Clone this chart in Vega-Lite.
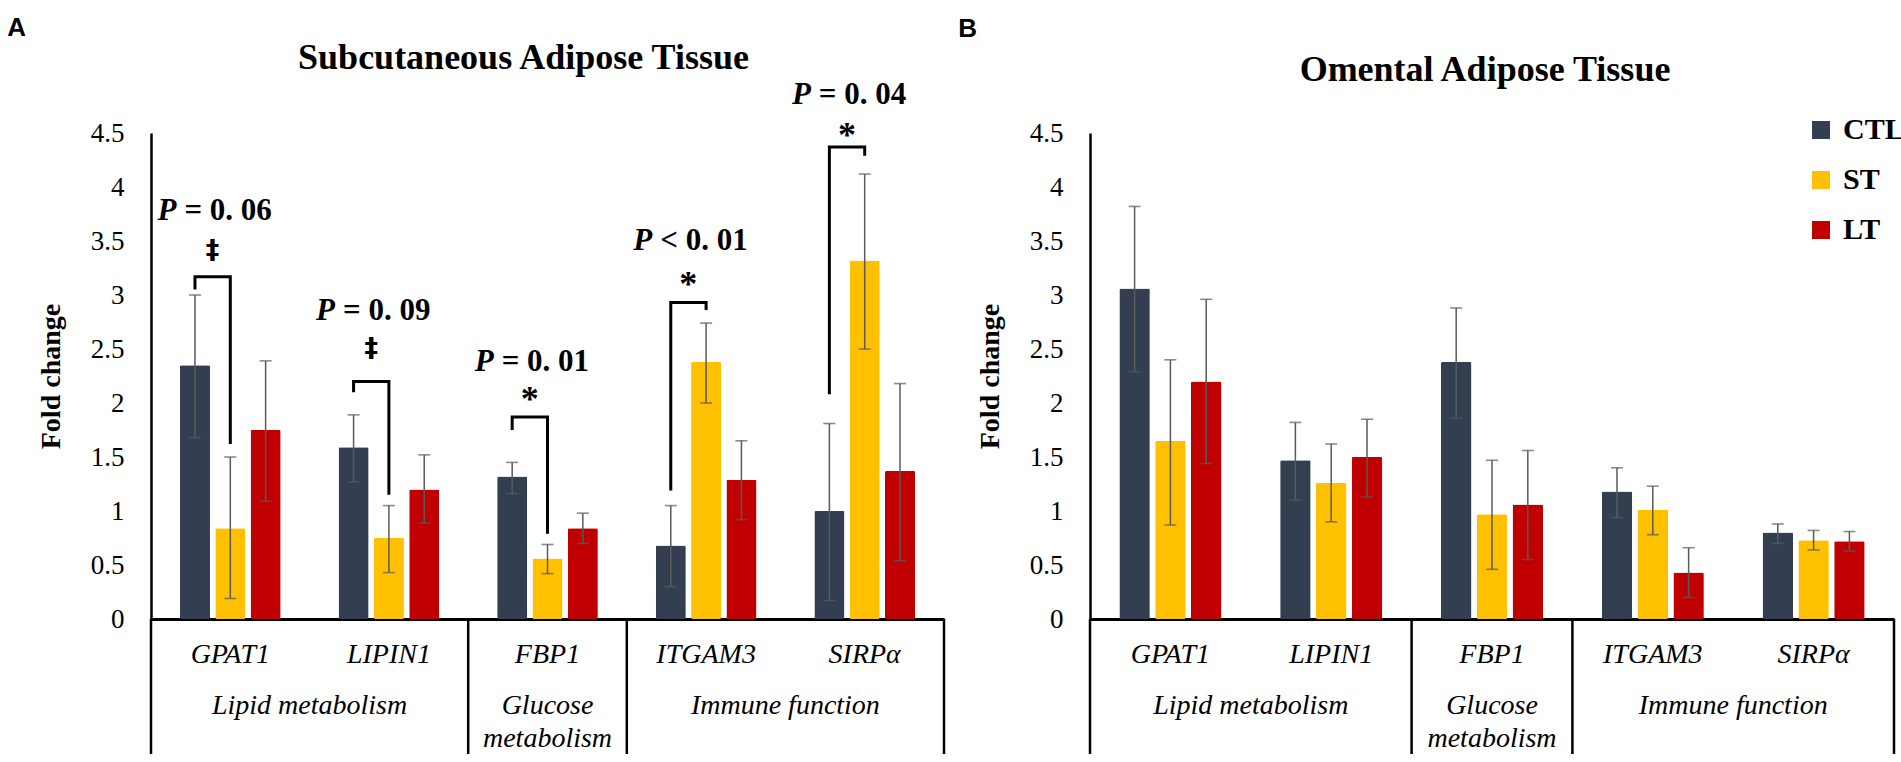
{
  "$schema": "https://vega.github.io/schema/vega-lite/v6.json",
  "padding": {"left": 7, "top": 15, "right": 0, "bottom": 0},
  "background": "white",
  "config": {"view": {"stroke": null}, "font": "Liberation Serif"},
  "spacing": 12,
  "resolve": {"scale": {"color": "independent", "x": "independent", "y": "independent", "xOffset": "independent"}},
  "datasets": {
    "subBars": [
      {"gene": "GPAT1", "group": "CTL", "value": 2.35, "lo": 1.68, "hi": 3.0},
      {"gene": "GPAT1", "group": "ST", "value": 0.84, "lo": 0.19, "hi": 1.5},
      {"gene": "GPAT1", "group": "LT", "value": 1.75, "lo": 1.09, "hi": 2.39},
      {"gene": "LIPIN1", "group": "CTL", "value": 1.59, "lo": 1.27, "hi": 1.89},
      {"gene": "LIPIN1", "group": "ST", "value": 0.75, "lo": 0.43, "hi": 1.05},
      {"gene": "LIPIN1", "group": "LT", "value": 1.2, "lo": 0.89, "hi": 1.52},
      {"gene": "FBP1", "group": "CTL", "value": 1.32, "lo": 1.16, "hi": 1.45},
      {"gene": "FBP1", "group": "ST", "value": 0.56, "lo": 0.42, "hi": 0.69},
      {"gene": "FBP1", "group": "LT", "value": 0.84, "lo": 0.7, "hi": 0.98},
      {"gene": "ITGAM3", "group": "CTL", "value": 0.68, "lo": 0.3, "hi": 1.05},
      {"gene": "ITGAM3", "group": "ST", "value": 2.38, "lo": 2.0, "hi": 2.74},
      {"gene": "ITGAM3", "group": "LT", "value": 1.29, "lo": 0.92, "hi": 1.65},
      {"gene": "SIRPα", "group": "CTL", "value": 1.0, "lo": 0.17, "hi": 1.81},
      {"gene": "SIRPα", "group": "ST", "value": 3.32, "lo": 2.5, "hi": 4.12},
      {"gene": "SIRPα", "group": "LT", "value": 1.37, "lo": 0.54, "hi": 2.18}
    ],
    "omBars": [
      {"gene": "GPAT1", "group": "CTL", "value": 3.06, "lo": 2.29, "hi": 3.82},
      {"gene": "GPAT1", "group": "ST", "value": 1.65, "lo": 0.87, "hi": 2.4},
      {"gene": "GPAT1", "group": "LT", "value": 2.2, "lo": 1.44, "hi": 2.96},
      {"gene": "LIPIN1", "group": "CTL", "value": 1.47, "lo": 1.1, "hi": 1.82},
      {"gene": "LIPIN1", "group": "ST", "value": 1.26, "lo": 0.9, "hi": 1.62},
      {"gene": "LIPIN1", "group": "LT", "value": 1.5, "lo": 1.13, "hi": 1.85},
      {"gene": "FBP1", "group": "CTL", "value": 2.38, "lo": 1.86, "hi": 2.88},
      {"gene": "FBP1", "group": "ST", "value": 0.97, "lo": 0.46, "hi": 1.47},
      {"gene": "FBP1", "group": "LT", "value": 1.06, "lo": 0.55, "hi": 1.56},
      {"gene": "ITGAM3", "group": "CTL", "value": 1.18, "lo": 0.94, "hi": 1.4},
      {"gene": "ITGAM3", "group": "ST", "value": 1.01, "lo": 0.78, "hi": 1.23},
      {"gene": "ITGAM3", "group": "LT", "value": 0.43, "lo": 0.2, "hi": 0.66},
      {"gene": "SIRPα", "group": "CTL", "value": 0.8, "lo": 0.7, "hi": 0.88},
      {"gene": "SIRPα", "group": "ST", "value": 0.73, "lo": 0.64, "hi": 0.82},
      {"gene": "SIRPα", "group": "LT", "value": 0.72, "lo": 0.63, "hi": 0.81}
    ],
    "seps": [{"gene": "GPAT1"}, {"gene": "FBP1"}, {"gene": "ITGAM3"}],
    "sepEnd": [{"gene": "SIRPα"}],
    "groupsEdge": [
      {"gene": "LIPIN1", "label": "Lipid metabolism"},
      {"gene": "SIRPα", "label": "Immune function"}
    ],
    "groupsMid": [{"gene": "FBP1", "label": "Glucose\nmetabolism"}],
    "subBr": [
      {"gene": "GPAT1", "group": "CTL", "y": 3.05, "k": 1},
      {"gene": "GPAT1", "group": "CTL", "y": 3.17, "k": 2},
      {"gene": "GPAT1", "group": "ST", "y": 3.17, "k": 3},
      {"gene": "GPAT1", "group": "ST", "y": 1.62, "k": 4},
      {"gene": "LIPIN1", "group": "CTL", "y": 2.1, "k": 1},
      {"gene": "LIPIN1", "group": "CTL", "y": 2.2, "k": 2},
      {"gene": "LIPIN1", "group": "ST", "y": 2.2, "k": 3},
      {"gene": "LIPIN1", "group": "ST", "y": 1.15, "k": 4},
      {"gene": "FBP1", "group": "CTL", "y": 1.75, "k": 1},
      {"gene": "FBP1", "group": "CTL", "y": 1.87, "k": 2},
      {"gene": "FBP1", "group": "ST", "y": 1.87, "k": 3},
      {"gene": "FBP1", "group": "ST", "y": 0.79, "k": 4},
      {"gene": "ITGAM3", "group": "CTL", "y": 1.19, "k": 1},
      {"gene": "ITGAM3", "group": "CTL", "y": 2.93, "k": 2},
      {"gene": "ITGAM3", "group": "ST", "y": 2.93, "k": 3},
      {"gene": "ITGAM3", "group": "ST", "y": 2.86, "k": 4},
      {"gene": "SIRPα", "group": "CTL", "y": 2.08, "k": 1},
      {"gene": "SIRPα", "group": "CTL", "y": 4.37, "k": 2},
      {"gene": "SIRPα", "group": "ST", "y": 4.37, "k": 3},
      {"gene": "SIRPα", "group": "ST", "y": 4.29, "k": 4}
    ],
    "subAnn": [
      {"gene": "GPAT1", "sym": "‡", "rest": "= 0. 06", "sy": 3.41, "py": 3.78},
      {"gene": "LIPIN1", "sym": "‡", "rest": "= 0. 09", "sy": 2.5, "py": 2.85},
      {"gene": "FBP1", "sym": "*", "rest": "= 0. 01", "sy": 2.03, "py": 2.38},
      {"gene": "ITGAM3", "sym": "*", "rest": "< 0. 01", "sy": 3.09, "py": 3.5},
      {"gene": "SIRPα", "sym": "*", "rest": "= 0. 04", "sy": 4.47, "py": 4.85}
    ]
  },
  "hconcat": [
    {
      "title": {"text": "A", "font": "Liberation Sans", "fontSize": 26, "fontWeight": "bold", "color": "black", "anchor": "start", "frame": "bounds", "dx": -30, "offset": -1},
      "resolve": {"scale": {"color": "independent", "x": "independent", "y": "independent", "xOffset": "independent"}},
      "vconcat": [
        {
          "width": 793,
          "height": 486,
          "title": {"text": "Subcutaneous Adipose Tissue", "font": "Liberation Serif", "fontSize": 36, "fontWeight": "bold", "color": "black", "anchor": "middle", "dx": -24, "offset": 2},
          "layer": [
            {
              "data": {"name": "subBars"},
              "mark": {"type": "bar", "cornerRadius": 1.5},
              "encoding": {
                "x": {"field": "gene", "type": "nominal", "sort": null,
                  "scale": {"domain": ["GPAT1", "LIPIN1", "FBP1", "ITGAM3", "SIRPα"], "paddingInner": 0, "paddingOuter": 0},
                  "axis": {"title": null, "ticks": false, "domain": true, "domainColor": "black", "domainWidth": 3, "labelAngle": 0, "labelFont": "Liberation Serif", "labelFontStyle": "italic", "labelFontSize": 28, "labelColor": "black", "labelPadding": 21, "grid": false}},
                "xOffset": {"field": "group", "type": "nominal", "scale": {"domain": ["CTL", "ST", "LT"], "paddingInner": 0.15, "paddingOuter": 0.82}},
                "y": {"field": "value", "type": "quantitative",
                  "scale": {"domain": [0, 4.5], "nice": false},
                  "axis": {"title": "Fold change", "titleFont": "Liberation Serif", "titleFontSize": 28, "titleFontWeight": "bold", "titleColor": "black", "titlePadding": 25, "values": [0, 0.5, 1, 1.5, 2, 2.5, 3, 3.5, 4, 4.5], "format": "~g", "ticks": false, "domainColor": "black", "domainWidth": 2.5, "labelFont": "Liberation Serif", "labelFontSize": 27, "labelColor": "black", "labelPadding": 27, "grid": false}},
                "color": {"field": "group", "type": "nominal", "scale": {"domain": ["CTL", "ST", "LT"], "range": ["#333F50", "#FFC000", "#C00000"]}, "legend": null}
              }
            },
            {
              "data": {"name": "subBars"},
              "mark": {"type": "rule", "color": "#5a5a5a", "strokeWidth": 1.5},
              "encoding": {
                "x": {"field": "gene", "type": "nominal"},
                "xOffset": {"field": "group", "type": "nominal"},
                "y": {"field": "lo", "type": "quantitative"},
                "y2": {"field": "hi"}
              }
            },
            {
              "data": {"name": "subBars"},
              "mark": {"type": "tick", "color": "#5a5a5a", "thickness": 1.6, "size": 12, "orient": "horizontal"},
              "encoding": {
                "x": {"field": "gene", "type": "nominal"},
                "xOffset": {"field": "group", "type": "nominal"},
                "y": {"field": "hi", "type": "quantitative"}
              }
            },
            {
              "data": {"name": "subBars"},
              "mark": {"type": "tick", "color": "#5a5a5a", "thickness": 1.6, "size": 12, "orient": "horizontal"},
              "encoding": {
                "x": {"field": "gene", "type": "nominal"},
                "xOffset": {"field": "group", "type": "nominal"},
                "y": {"field": "lo", "type": "quantitative"}
              }
            },
            {
              "data": {"name": "seps"},
              "mark": {"type": "rule", "color": "black", "strokeWidth": 2.5},
              "encoding": {
                "x": {"field": "gene", "type": "nominal", "bandPosition": 0},
                "y": {"datum": 0, "type": "quantitative"},
                "y2": {"datum": -1.25}
              }
            },
            {
              "data": {"name": "sepEnd"},
              "mark": {"type": "rule", "color": "black", "strokeWidth": 2.5},
              "encoding": {
                "x": {"field": "gene", "type": "nominal", "bandPosition": 1},
                "y": {"datum": 0, "type": "quantitative"},
                "y2": {"datum": -1.25}
              }
            },
            {
              "data": {"name": "groupsEdge"},
              "mark": {"type": "text", "font": "Liberation Serif", "fontStyle": "italic", "fontSize": 28, "color": "black", "baseline": "alphabetic", "align": "center"},
              "encoding": {
                "x": {"field": "gene", "type": "nominal", "bandPosition": 0},
                "y": {"datum": -0.88, "type": "quantitative"},
                "text": {"field": "label"}
              }
            },
            {
              "data": {"name": "groupsMid"},
              "mark": {"type": "text", "font": "Liberation Serif", "fontStyle": "italic", "fontSize": 28, "color": "black", "baseline": "alphabetic", "align": "center", "lineBreak": "\n", "lineHeight": 33},
              "encoding": {
                "x": {"field": "gene", "type": "nominal", "bandPosition": 0.5},
                "y": {"datum": -0.88, "type": "quantitative"},
                "text": {"field": "label"}
              }
            },
            {
              "data": {"name": "subBr"},
              "mark": {"type": "line", "color": "black", "strokeWidth": 3, "strokeJoin": "miter"},
              "encoding": {
                "x": {"field": "gene", "type": "nominal"},
                "xOffset": {"field": "group", "type": "nominal"},
                "y": {"field": "y", "type": "quantitative"},
                "detail": {"field": "gene"},
                "order": {"field": "k"}
              }
            },
            {
              "data": {"name": "subAnn"},
              "transform": [{"filter": "datum.sym === '*'"}],
              "mark": {"type": "text", "font": "Liberation Serif", "fontWeight": "bold", "fontSize": 36, "color": "black", "baseline": "middle", "align": "center"},
              "encoding": {
                "x": {"field": "gene", "type": "nominal", "bandPosition": 0.388},
                "y": {"field": "sy", "type": "quantitative"},
                "text": {"field": "sym"}
              }
            },
            {
              "data": {"name": "subAnn"},
              "transform": [{"filter": "datum.sym !== '*'"}],
              "mark": {"type": "text", "font": "DejaVu Sans", "fontWeight": "bold", "fontSize": 27, "color": "black", "baseline": "middle", "align": "center"},
              "encoding": {
                "x": {"field": "gene", "type": "nominal", "bandPosition": 0.388},
                "y": {"field": "sy", "type": "quantitative"},
                "text": {"field": "sym"}
              }
            },
            {
              "data": {"name": "subAnn"},
              "mark": {"type": "text", "font": "Liberation Serif", "fontWeight": "bold", "fontStyle": "italic", "fontSize": 31, "color": "black", "baseline": "middle", "align": "right", "dx": -38},
              "encoding": {
                "x": {"field": "gene", "type": "nominal", "bandPosition": 0.4},
                "y": {"field": "py", "type": "quantitative"},
                "text": {"value": "P"}
              }
            },
            {
              "data": {"name": "subAnn"},
              "mark": {"type": "text", "font": "Liberation Serif", "fontWeight": "bold", "fontSize": 31, "color": "black", "baseline": "middle", "align": "left", "dx": -30},
              "encoding": {
                "x": {"field": "gene", "type": "nominal", "bandPosition": 0.4},
                "y": {"field": "py", "type": "quantitative"},
                "text": {"field": "rest"}
              }
            }
          ]
        }
      ]
    },
    {
      "title": {"text": "B", "font": "Liberation Sans", "fontSize": 26, "fontWeight": "bold", "color": "black", "anchor": "start", "frame": "bounds", "dx": -18, "offset": 10},
      "resolve": {"scale": {"color": "independent", "x": "independent", "y": "independent", "xOffset": "independent"}},
      "vconcat": [
        {
          "width": 804,
          "height": 486,
          "title": {"text": "Omental Adipose Tissue", "font": "Liberation Serif", "fontSize": 36, "fontWeight": "bold", "color": "black", "anchor": "middle", "dx": -7, "offset": 26},
          "layer": [
            {
              "data": {"name": "omBars"},
              "mark": {"type": "bar", "cornerRadius": 1.5},
              "encoding": {
                "x": {"field": "gene", "type": "nominal", "sort": null,
                  "scale": {"domain": ["GPAT1", "LIPIN1", "FBP1", "ITGAM3", "SIRPα"], "paddingInner": 0, "paddingOuter": 0},
                  "axis": {"title": null, "ticks": false, "domain": true, "domainColor": "black", "domainWidth": 3, "labelAngle": 0, "labelFont": "Liberation Serif", "labelFontStyle": "italic", "labelFontSize": 28, "labelColor": "black", "labelPadding": 21, "grid": false}},
                "xOffset": {"field": "group", "type": "nominal", "scale": {"domain": ["CTL", "ST", "LT"], "paddingInner": 0.15, "paddingOuter": 0.82}},
                "y": {"field": "value", "type": "quantitative",
                  "scale": {"domain": [0, 4.5], "nice": false},
                  "axis": {"title": "Fold change", "titleFont": "Liberation Serif", "titleFontSize": 28, "titleFontWeight": "bold", "titleColor": "black", "titlePadding": 25, "values": [0, 0.5, 1, 1.5, 2, 2.5, 3, 3.5, 4, 4.5], "format": "~g", "ticks": false, "domainColor": "black", "domainWidth": 2.5, "labelFont": "Liberation Serif", "labelFontSize": 27, "labelColor": "black", "labelPadding": 27, "grid": false}},
                "color": {"field": "group", "type": "nominal", "scale": {"domain": ["CTL", "ST", "LT"], "range": ["#333F50", "#FFC000", "#C00000"]},
                  "legend": {"orient": "none", "legendX": 716, "legendY": -18, "title": null, "labelFont": "Liberation Serif", "labelFontSize": 30, "labelFontWeight": "bold", "labelColor": "black", "symbolType": "square", "symbolSize": 324, "symbolStrokeWidth": 0, "rowPadding": 20, "labelOffset": 7, "padding": 0, "direction": "vertical"}}
              }
            },
            {
              "data": {"name": "omBars"},
              "mark": {"type": "rule", "color": "#5a5a5a", "strokeWidth": 1.5},
              "encoding": {
                "x": {"field": "gene", "type": "nominal"},
                "xOffset": {"field": "group", "type": "nominal"},
                "y": {"field": "lo", "type": "quantitative"},
                "y2": {"field": "hi"}
              }
            },
            {
              "data": {"name": "omBars"},
              "mark": {"type": "tick", "color": "#5a5a5a", "thickness": 1.6, "size": 12, "orient": "horizontal"},
              "encoding": {
                "x": {"field": "gene", "type": "nominal"},
                "xOffset": {"field": "group", "type": "nominal"},
                "y": {"field": "hi", "type": "quantitative"}
              }
            },
            {
              "data": {"name": "omBars"},
              "mark": {"type": "tick", "color": "#5a5a5a", "thickness": 1.6, "size": 12, "orient": "horizontal"},
              "encoding": {
                "x": {"field": "gene", "type": "nominal"},
                "xOffset": {"field": "group", "type": "nominal"},
                "y": {"field": "lo", "type": "quantitative"}
              }
            },
            {
              "data": {"name": "seps"},
              "mark": {"type": "rule", "color": "black", "strokeWidth": 2.5},
              "encoding": {
                "x": {"field": "gene", "type": "nominal", "bandPosition": 0},
                "y": {"datum": 0, "type": "quantitative"},
                "y2": {"datum": -1.25}
              }
            },
            {
              "data": {"name": "sepEnd"},
              "mark": {"type": "rule", "color": "black", "strokeWidth": 2.5},
              "encoding": {
                "x": {"field": "gene", "type": "nominal", "bandPosition": 1},
                "y": {"datum": 0, "type": "quantitative"},
                "y2": {"datum": -1.25}
              }
            },
            {
              "data": {"name": "groupsEdge"},
              "mark": {"type": "text", "font": "Liberation Serif", "fontStyle": "italic", "fontSize": 28, "color": "black", "baseline": "alphabetic", "align": "center"},
              "encoding": {
                "x": {"field": "gene", "type": "nominal", "bandPosition": 0},
                "y": {"datum": -0.88, "type": "quantitative"},
                "text": {"field": "label"}
              }
            },
            {
              "data": {"name": "groupsMid"},
              "mark": {"type": "text", "font": "Liberation Serif", "fontStyle": "italic", "fontSize": 28, "color": "black", "baseline": "alphabetic", "align": "center", "lineBreak": "\n", "lineHeight": 33},
              "encoding": {
                "x": {"field": "gene", "type": "nominal", "bandPosition": 0.5},
                "y": {"datum": -0.88, "type": "quantitative"},
                "text": {"field": "label"}
              }
            }
          ]
        }
      ]
    }
  ]
}
